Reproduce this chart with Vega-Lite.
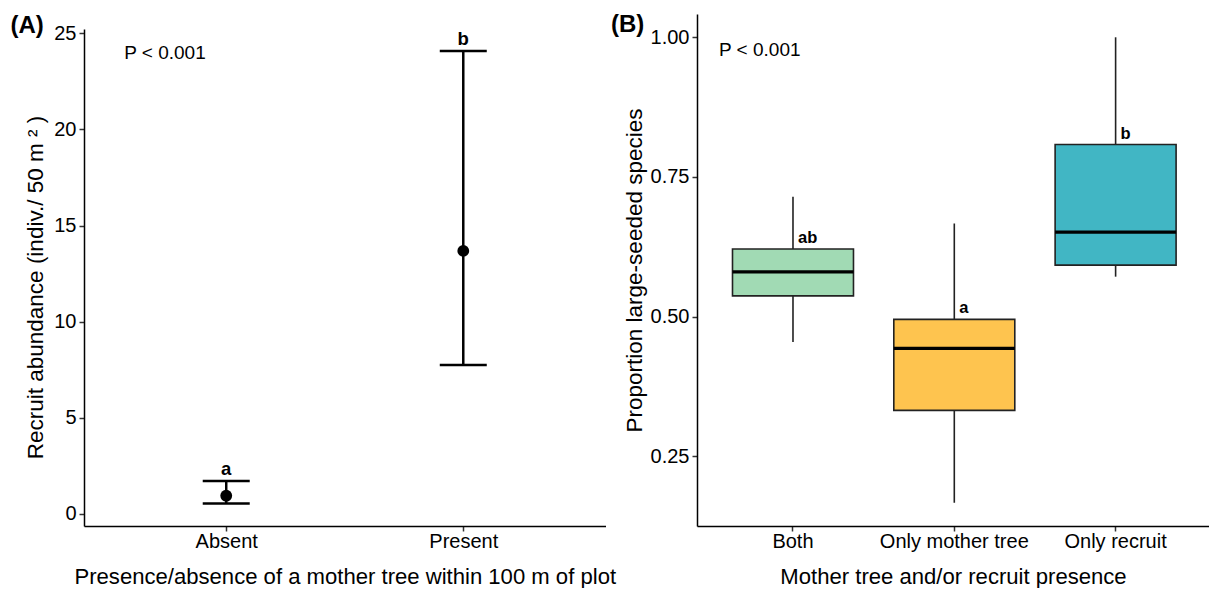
{
  "$schema": "https://vega.github.io/schema/vega-lite/v6.json",
  "autosize": {"type": "pad"},
  "padding": {"left": 10, "top": 13, "right": 0, "bottom": 0},
  "background": "white",
  "config": {
    "view": {"stroke": null},
    "font": "Liberation Sans",
    "axis": {
      "grid": false,
      "domainColor": "black",
      "domainWidth": 1.5,
      "tickColor": "#333333",
      "tickWidth": 1.5,
      "tickSize": 5,
      "labelFont": "Liberation Sans",
      "labelFontSize": 20,
      "labelColor": "black",
      "labelPadding": 3,
      "titleFont": "Liberation Sans",
      "titleFontSize": 22.5,
      "titleFontWeight": "normal",
      "titleColor": "black"
    },
    "axisX": {"labelPadding": 0, "titlePadding": 15, "titleFontSize": 22.1},
    "title": {"font": "Liberation Sans", "fontSize": 24, "fontWeight": "bold", "color": "black"}
  },
  "datasets": {
    "recruit": [
      {"mother": "Absent", "mean": 0.95, "lower": 0.54, "upper": 1.72, "letter": "a"},
      {"mother": "Present", "mean": 13.68, "lower": 7.75, "upper": 24.08, "letter": "b"}
    ],
    "recruitP": [
      {"mother": "Absent", "y": 23.65, "label": "P < 0.001"}
    ],
    "prop": [
      {"presence": "Both", "lower": 0.4545, "q1": 0.537, "median": 0.580, "q3": 0.621, "upper": 0.7143, "letter": "ab"},
      {"presence": "Only mother tree", "lower": 0.1667, "q1": 0.332, "median": 0.443, "q3": 0.495, "upper": 0.6667, "letter": "a"},
      {"presence": "Only recruit", "lower": 0.5714, "q1": 0.592, "median": 0.651, "q3": 0.808, "upper": 1.0, "letter": "b"}
    ],
    "propP": [
      {"presence": "Both", "y": 0.9665, "label": "P < 0.001"}
    ],
    "empty": []
  },
  "spacing": -5,
  "hconcat": [
    {
      "bounds": "flush",
      "spacing": 0,
      "vconcat": [
        {
          "width": 521.5,
          "height": 14.5,
          "data": {"name": "empty"},
          "mark": {"type": "point", "opacity": 0},
          "encoding": {}
        },
        {
          "width": 521.5,
          "height": 497,
          "title": {"text": "(A)", "anchor": "start", "frame": "group", "dx": -73.5, "dy": 34, "offset": 0, "baseline": "alphabetic"},
          "encoding": {
            "x": {
              "field": "mother", "type": "nominal",
              "scale": {"type": "point", "padding": 0.6, "domain": ["Absent", "Present"]},
              "axis": {"title": "Presence/absence of a mother tree within 100 m of plot", "labelAngle": 0}
            }
          },
          "layer": [
            {
              "data": {"name": "recruit"},
              "mark": {"type": "rule", "color": "black", "strokeWidth": 2.5},
              "encoding": {
                "y": {"field": "lower", "type": "quantitative", "scale": {"domain": [-0.625, 25.22], "nice": false, "zero": false},
                  "axis": {"title": "Recruit abundance (indiv./ 50 m  ² )", "values": [0, 5, 10, 15, 20, 25], "titlePadding": 6, "titleY": 258}},
                "y2": {"field": "upper"}
              }
            },
            {
              "data": {"name": "recruit"},
              "mark": {"type": "tick", "color": "black", "opacity": 1, "size": 47, "thickness": 2.5, "orient": "horizontal"},
              "encoding": {"y": {"field": "upper", "type": "quantitative"}}
            },
            {
              "data": {"name": "recruit"},
              "mark": {"type": "tick", "color": "black", "opacity": 1, "size": 47, "thickness": 2.5, "orient": "horizontal"},
              "encoding": {"y": {"field": "lower", "type": "quantitative"}}
            },
            {
              "data": {"name": "recruit"},
              "mark": {"type": "point", "filled": true, "color": "black", "opacity": 1, "size": 140},
              "encoding": {"y": {"field": "mean", "type": "quantitative"}}
            },
            {
              "data": {"name": "recruit"},
              "mark": {"type": "text", "font": "Liberation Sans", "fontWeight": "bold", "fontSize": 18.5, "align": "center", "baseline": "alphabetic", "dy": -6, "color": "black"},
              "encoding": {"y": {"field": "upper", "type": "quantitative"}, "text": {"field": "letter"}}
            },
            {
              "data": {"name": "recruitP"},
              "mark": {"type": "text", "font": "Liberation Sans", "fontSize": 19, "align": "left", "baseline": "alphabetic", "dx": -102, "color": "black"},
              "encoding": {"y": {"field": "y", "type": "quantitative"}, "text": {"field": "label"}}
            }
          ]
        }
      ]
    },
    {
      "width": 512,
      "height": 512,
      "title": {"text": "(B)", "anchor": "start", "frame": "group", "dx": -86, "dy": 42.3, "offset": 0, "baseline": "alphabetic"},
      "encoding": {
        "x": {
          "field": "presence", "type": "nominal",
          "scale": {"type": "band", "paddingInner": 0.25, "paddingOuter": 0.212, "align": 0.519, "domain": ["Both", "Only mother tree", "Only recruit"]},
          "axis": {"title": "Mother tree and/or recruit presence", "labelAngle": 0}
        }
      },
      "layer": [
        {
          "data": {"name": "prop"},
          "mark": {"type": "rule", "color": "#222222", "strokeWidth": 1.6},
          "encoding": {
            "y": {"field": "lower", "type": "quantitative", "scale": {"domain": [0.125, 1.0417], "nice": false, "zero": false},
              "axis": {"title": "Proportion large-seeded species", "values": [0.25, 0.5, 0.75, 1.0], "format": ".2f", "titlePadding": 4}},
            "y2": {"field": "upper"}
          }
        },
        {
          "data": {"name": "prop"},
          "mark": {"type": "bar", "stroke": "#222222", "strokeWidth": 1.6, "opacity": 1},
          "encoding": {
            "y": {"field": "q1", "type": "quantitative"},
            "y2": {"field": "q3"},
            "color": {"field": "presence", "type": "nominal", "legend": null,
              "scale": {"domain": ["Both", "Only mother tree", "Only recruit"], "range": ["#A1DAB4", "#FEC44F", "#41B6C4"]}}
          }
        },
        {
          "data": {"name": "prop"},
          "mark": {"type": "tick", "color": "black", "opacity": 1, "size": 121, "thickness": 3.2, "orient": "horizontal"},
          "encoding": {"y": {"field": "median", "type": "quantitative"}}
        },
        {
          "data": {"name": "prop"},
          "mark": {"type": "text", "font": "Liberation Sans", "fontWeight": "bold", "fontSize": 16.5, "align": "left", "baseline": "alphabetic", "dx": 5, "dy": -6, "color": "black"},
          "encoding": {"y": {"field": "q3", "type": "quantitative"}, "text": {"field": "letter"}}
        },
        {
          "data": {"name": "propP"},
          "mark": {"type": "text", "font": "Liberation Sans", "fontSize": 19, "align": "left", "baseline": "alphabetic", "dx": -74, "color": "black"},
          "encoding": {"y": {"field": "y", "type": "quantitative"}, "text": {"field": "label"}}
        }
      ]
    }
  ]
}
